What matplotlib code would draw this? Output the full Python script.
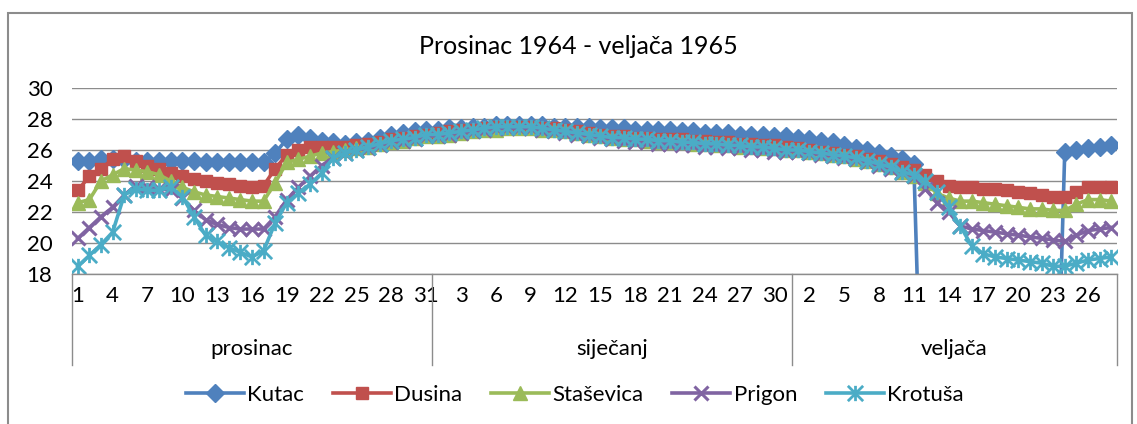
import matplotlib
matplotlib.use("Agg")
import matplotlib.pyplot as plt
from matplotlib.path import Path
from matplotlib.patches import Rectangle
import numpy as np

plt.rcParams['font.family'] = ['Lato', 'DejaVu Sans']

months = ['prosinac', 'siječanj', 'veljača']
month_days = [31, 31, 28]

kutac = [25.3, 25.3, 25.4, 25.4, 25.4, 25.3, 25.3, 25.3, 25.3, 25.3, 25.3, 25.2, 25.2, 25.2, 25.2, 25.2,
         25.2, 25.8, 26.7, 27.0, 26.8, 26.6, 26.5, 26.4, 26.5, 26.6, 26.8, 27.0, 27.1, 27.2, 27.3,
         27.3, 27.4, 27.4, 27.5, 27.5, 27.6, 27.6, 27.6, 27.6, 27.6, 27.5, 27.5, 27.5, 27.5, 27.4, 27.4,
         27.4, 27.3, 27.3, 27.3, 27.3, 27.2, 27.2, 27.1, 27.1, 27.1, 27.0, 27.0, 27.0, 26.9, 26.9,
         26.8, 26.7, 26.6, 26.5, 26.3, 26.1, 26.0, 25.8, 25.6, 25.4, 25.1,
         0, 0, 0, 0, 0, 0, 0, 0, 0, 0, 0, 0,
         25.9, 26.0, 26.1, 26.2, 26.3]
dusina = [23.4, 24.3, 24.8, 25.4, 25.6, 25.3, 25.0, 24.8, 24.5, 24.3, 24.1, 24.0, 23.9, 23.8, 23.7, 23.6,
          23.7, 24.8, 25.7, 26.0, 26.2, 26.2, 26.2, 26.2, 26.3, 26.4, 26.5, 26.7, 26.8, 26.9, 27.0,
          27.1, 27.2, 27.3, 27.3, 27.4, 27.5, 27.5, 27.5, 27.5, 27.4, 27.4, 27.3, 27.2, 27.1, 27.0, 26.9,
          26.9, 26.8, 26.8, 26.7, 26.7, 26.7, 26.6, 26.6, 26.5, 26.5, 26.4, 26.4, 26.3, 26.3, 26.2,
          26.1, 26.0, 25.9, 25.8, 25.7, 25.6, 25.4, 25.3, 25.1, 24.9, 24.7, 24.4, 24.0, 23.7, 23.6,
          23.6, 23.5, 23.5, 23.4, 23.3, 23.2, 23.1, 23.0, 23.0, 23.3, 23.6, 23.6, 23.6]
stasevica = [22.6, 22.8, 24.0, 24.4, 24.8, 24.7, 24.6, 24.4, 24.0, 23.6, 23.3, 23.1, 23.0, 22.9, 22.8, 22.7,
             22.7, 23.9, 25.2, 25.4, 25.6, 25.8, 25.9, 26.0, 26.1, 26.2, 26.4, 26.5, 26.6, 26.8, 26.9,
             26.9, 27.0, 27.1, 27.2, 27.3, 27.3, 27.4, 27.4, 27.4, 27.3, 27.3, 27.2, 27.1, 27.0, 26.9, 26.8,
             26.7, 26.7, 26.6, 26.5, 26.5, 26.5, 26.4, 26.4, 26.3, 26.3, 26.2, 26.2, 26.1, 26.1, 26.0,
             26.0, 25.9, 25.8, 25.7, 25.6, 25.4, 25.3, 25.1, 24.9, 24.6, 24.3, 23.9, 23.2, 22.9, 22.7,
             22.7, 22.6, 22.5, 22.4, 22.3, 22.2, 22.2, 22.1, 22.1, 22.5, 22.8, 22.8, 22.7]
prigon = [20.3, 21.0, 21.7, 22.3, 23.1, 23.7, 23.6, 23.5, 23.4, 22.9, 22.1, 21.5, 21.2, 21.0, 20.9, 20.9,
          20.9, 21.7, 22.8, 23.6, 24.3, 25.0, 25.5, 25.8, 26.0, 26.1, 26.3, 26.5, 26.6, 26.7, 26.9,
          26.9, 27.0, 27.1, 27.2, 27.3, 27.4, 27.4, 27.4, 27.4, 27.3, 27.2, 27.1, 27.0, 26.9, 26.8, 26.7,
          26.6, 26.5, 26.5, 26.4, 26.4, 26.3, 26.3, 26.2, 26.2, 26.1, 26.1, 26.0, 26.0, 25.9, 25.9,
          25.9, 25.8, 25.7, 25.6, 25.5, 25.4, 25.2, 25.0, 24.8, 24.6, 24.3, 23.5, 22.6, 22.0, 21.1,
          20.9, 20.8, 20.7, 20.6, 20.5, 20.4, 20.3, 20.2, 20.1, 20.5, 20.8, 20.9, 21.0]
krotusa = [18.5, 19.2, 19.9, 20.7, 23.1, 23.5, 23.4, 23.4, 23.6, 23.0, 21.7, 20.5, 20.1, 19.7, 19.4, 19.1,
           19.5, 21.3, 22.6, 23.2, 23.8, 24.5, 25.5, 25.8, 26.0, 26.2, 26.4, 26.6, 26.7, 26.8, 27.0,
           27.0, 27.1, 27.2, 27.3, 27.4, 27.5, 27.5, 27.5, 27.5, 27.4, 27.3, 27.2, 27.1, 27.0, 26.9, 26.8,
           26.8, 26.7, 26.7, 26.6, 26.6, 26.5, 26.5, 26.4, 26.4, 26.3, 26.3, 26.2, 26.2, 26.1, 26.0,
           26.0, 25.9, 25.8, 25.7, 25.6, 25.5, 25.3, 25.1, 24.9, 24.6, 24.4, 24.0, 23.3, 22.3, 21.1,
           19.8, 19.3, 19.1, 19.0, 18.9, 18.8, 18.7, 18.5, 18.5, 18.7, 18.9, 19.0, 19.1]

names = ['Kutac', 'Dusina', 'Staševica', 'Prigon', 'Krotuša']
series = [kutac, dusina, stasevica, prigon, krotusa]
colors = ['#4F81BD', '#C0504D', '#9BBB59', '#8064A2', '#4BACC6']

# excel style "star" marker: X with a vertical bar
star = Path([(-1, -1), (1, 1), (-1, 1), (1, -1), (0, -1), (0, 1)],
            [Path.MOVETO, Path.LINETO, Path.MOVETO, Path.LINETO, Path.MOVETO, Path.LINETO])
markers = [('D', 9, 1), ('s', 8.5, 1), ('^', 10.5, 1), ('x', 10, 2.2), (star, 11, 2)]

days = []
for n in month_days:
    days += list(range(1, n + 1))
x = np.arange(len(days))

fig = plt.figure(figsize=(11.37, 4.24), dpi=100)
ax = fig.add_axes([72 / 1137, 1 - 274 / 424, (1117 - 72) / 1137, (274 - 88) / 424])

for vals, name, c, (m, ms, mew) in zip(series, names, colors, markers):
    ax.plot(x, vals, color=c, lw=2.6, marker=m, markersize=ms,
            markeredgewidth=mew, markerfacecolor=c, markeredgecolor=c, label=name)

ax.set_xlim(-0.5, len(days) - 0.5)
ax.set_ylim(18, 30)
ax.set_yticks(np.arange(18, 31, 2))
ax.grid(axis='y', color='#8c8c8c', lw=1)
ax.set_axisbelow(True)
for s in ['top', 'right', 'left']:
    ax.spines[s].set_visible(False)
ax.spines['bottom'].set_color('#8c8c8c')
ax.spines['bottom'].set_linewidth(1)

ticks = x[::3]
ax.set_xticks(ticks)
ax.set_xticklabels([str(days[i]) for i in ticks])
ax.tick_params(axis='x', length=0, pad=9, labelsize=16)
ax.tick_params(axis='y', length=0, pad=14, labelsize=16)

# month separators and labels (multi-level category axis)
trans = ax.get_xaxis_transform()
start = 0
bounds = [0]
for name, n in zip(months, month_days):
    ax.text(start + n / 2 - 0.5, -0.405, name, transform=trans, ha='center', va='center',
            fontsize=16)
    start += n
    bounds.append(start)
for b in bounds:
    ax.plot([b - 0.5, b - 0.5], [0, -0.49], transform=trans, color='#8c8c8c', lw=1, clip_on=False)

fig.text(578 / 1137, 1 - 47 / 424, 'Prosinac 1964 - veljača 1965', ha='center', va='center',
         fontsize=18)

fig.legend(loc='center', bbox_to_anchor=(575 / 1137, 1 - 395 / 424), ncol=5, frameon=False,
           fontsize=16, handlelength=2.6, columnspacing=1.3, handletextpad=0.15)

fig.patches.append(Rectangle((8 / 1137, -0.05), (1132 - 8) / 1137, 1.05 - 13 / 424,
                             transform=fig.transFigure, fill=False, edgecolor='#8c8c8c', lw=1.5))

fig.savefig('out.png', dpi=100)
